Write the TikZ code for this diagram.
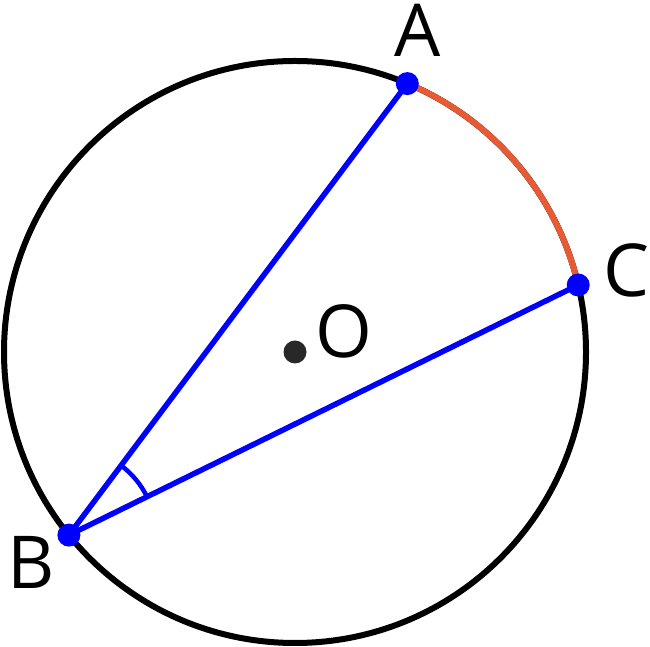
\documentclass[tikz,border=0pt]{standalone}
\usepackage{fontspec}
\setmainfont{Open Sans}
\usepackage{xcolor}
\usetikzlibrary{angles}
\definecolor{arcorange}{RGB}{232,90,52}
\definecolor{centredot}{RGB}{40,40,40}

\begin{document}
\begin{tikzpicture}[
            x=1pt, y=1pt,
            pt/.style={circle, fill=blue, inner sep=0pt, minimum size=23pt},
            lbl/.style={font=\fontsize{73}{80}\selectfont, inner sep=0pt},
            seg/.style={draw=blue, line width=5.5pt}
            ]
            \useasboundingbox (0,0) rectangle (650,647);

            % Circle and points with manual coordinates
            \coordinate (O) at (295,295);
            \draw[line width=6pt] (O) circle[radius=291];
            \coordinate (A) at (407.3,563.4);
            \coordinate (C) at (578.2,362);
            \coordinate (B) at (68.9,111.9);

            % Arc AC
            \draw[arcorange, line width=6pt] (C) arc[start angle=13.3, end angle=67.3, radius=291];

            % Chords
            \draw[seg] (B) -- (A);
            \draw[seg] (B) -- (C);
            \pic[draw=blue, line width=4.5pt, angle radius=87pt] {angle = C--B--A};

            % Dots and labels
            \node[pt] (dotA) at (A) {};
            \node[pt] (dotC) at (C) {};
            \node[pt] (dotB) at (B) {};
            \node[pt, fill=centredot] (dotO) at (O) {};
            \node[lbl] (labA) at (418,617) {A};
            \node[lbl] (labC) at (626.5,377) {C};
            \node[lbl] (labB) at (31,85) {B};
            \node[lbl] (labO) at (344,316) {O};
        \end{tikzpicture}
\end{document}
